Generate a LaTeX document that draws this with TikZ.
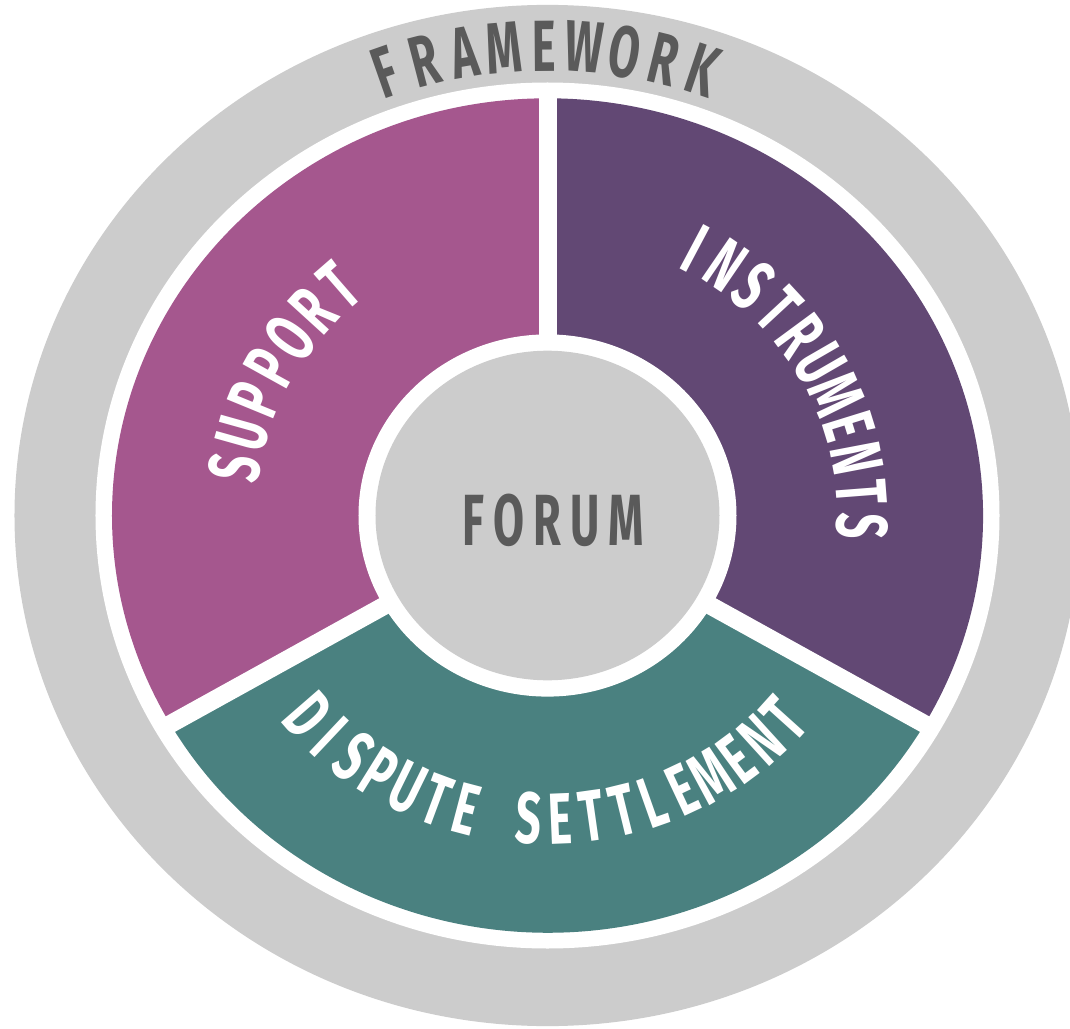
\documentclass[tikz,border=0pt]{standalone}
\usepackage{fontspec}
\newfontfamily\dinfont{Fira Sans}[FakeStretch=0.62]
\newfontfamily\plainfont{Fira Sans}
\definecolor{supportpink}{RGB}{165,87,142}
\definecolor{instrpurple}{RGB}{98,72,116}
\definecolor{disputeteal}{RGB}{74,129,128}
\definecolor{ringgray}{RGB}{204,204,204}
\definecolor{labelgray}{RGB}{90,90,90}
\newcommand{\labelfont}{\dinfont\bfseries\fontsize{72.5}{80}\selectfont}
\newcommand{\letterfont}{\plainfont\bfseries\fontsize{72.5}{80}\selectfont}

% letters spread along an elliptic arc (baseline on the arc)
% #1 name, #2 colour, #3 x radius, #4 y radius, #5 start angle, #6 end angle, #7 turn, #8 letters
\newlength{\letterwd}
\newcommand{\arcletters}[8]{%
  \xdef\sumwd{0}\xdef\nletters{0}%
  \foreach \ch in {#8}{%
    \settowidth{\letterwd}{\letterfont\ch}%
    \pgfmathsetmacro{\tmp}{\sumwd+0.62*\letterwd}\xdef\sumwd{\tmp}%
    \pgfmathtruncatemacro{\tmp}{\nletters+1}\xdef\nletters{\tmp}%
  }%
  \pgfmathsetmacro{\rmid}{(#3+#4)/2}%
  \pgfmathsetmacro{\arclen}{abs(#6-#5)*pi/180*\rmid}%
  \pgfmathsetmacro{\gapwd}{(\arclen-\sumwd)/(\nletters-1)}%
  \pgfmathsetmacro{\dir}{sign(#6-#5)}%
  \xdef\curpos{0}%
  \foreach \ch [count=\i] in {#8}{%
    \settowidth{\letterwd}{\letterfont\ch}%
    \pgfmathsetmacro{\ang}{#5+\dir*(\curpos+0.31*\letterwd)/\rmid*180/pi}%
    \begin{scope}[shift={(\ang:#3pt and #4pt)}, rotate=\ang+#7, xscale=0.62]
      \node[transform shape, anchor=base, inner sep=0pt, text=#2, font=\letterfont] (#1-\i) at (0,0) {\ch};
    \end{scope}
    \pgfmathsetmacro{\tmp}{\curpos+0.62*\letterwd+\gapwd}\xdef\curpos{\tmp}%
  }%
}

\begin{document}
\begin{tikzpicture}[
    segment/.style={fill=#1, draw=none},
    divider/.style={draw=white, line width=18pt}
]
    % Page
    \path[use as bounding box, fill=white] (-547.5pt,-512.5pt) rectangle (522.5pt,515.5pt);

    % Framework ring
    \fill[ringgray] (0,0) ellipse[x radius=533pt, y radius=510.6pt];
    \fill[white] (0,0) ellipse[x radius=452pt, y radius=433pt];

    % Segments
    \fill[segment=supportpink] (0,0) -- (90:435.5pt and 417.2pt) arc[start angle=90, end angle=210, x radius=435.5pt, y radius=417.2pt] -- cycle;
    \fill[segment=instrpurple] (0,0) -- (-30:435.5pt and 417.2pt) arc[start angle=-30, end angle=90, x radius=435.5pt, y radius=417.2pt] -- cycle;
    \fill[segment=disputeteal] (0,0) -- (210:435.5pt and 417.2pt) arc[start angle=210, end angle=330, x radius=435.5pt, y radius=417.2pt] -- cycle;

    % Gaps
    \foreach \a in {90,210,330}
        \draw[divider] (0,0) -- (\a:445pt and 426.3pt);

    % Forum
    \fill[white] (0,0) ellipse[x radius=189pt, y radius=181.1pt];
    \fill[ringgray] (0,0) ellipse[x radius=172pt, y radius=164.8pt];
    \node[text=labelgray, font=\labelfont\addfontfeatures{LetterSpace=13}] (forum) at (6pt,-5pt) {FORUM};

    % Curved labels
    \arcletters{framework}{labelgray}{464}{444.5}{109.3}{71.5}{-90}{F,R,A,M,E,W,O,R,K}
    \arcletters{support}{white}{292}{279.7}{171}{131}{-90}{S,U,P,P,O,R,T}
    \arcletters{instruments}{white}{290}{277.8}{62}{-2}{-90}{I,N,S,T,R,U,M,E,N,T,S}
    \arcletters{dispute}{white}{343}{328.6}{221}{318}{90}{D,I,S,P,U,T,E,{},S,E,T,T,L,E,M,E,N,T}

\end{tikzpicture}
\end{document}
